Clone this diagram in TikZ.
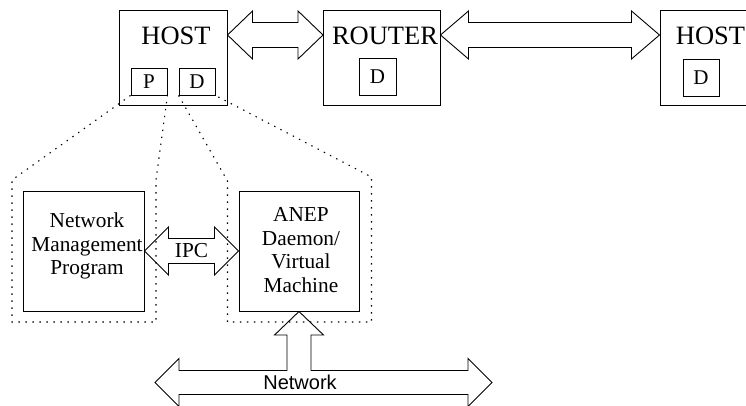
\documentclass[tikz,border=0pt]{standalone}
\usepackage{fontspec}
\setmainfont{Liberation Serif}
\newfontfamily\netfont{Liberation Sans}
\usetikzlibrary{calc}

% horizontal fat double arrow: from, to, head length
\newcommand{\fatarrow}[3]{%
  \draw[fat] let \p1=#1, \p2=#2 in
    (\p1) -- (\x1+#3,\y1+24pt) -- (\x1+#3,\y1+12.5pt) -- (\x2-#3,\y1+12.5pt)
    -- (\x2-#3,\y1+24pt) -- (\p2) -- (\x2-#3,\y1-24pt) -- (\x2-#3,\y1-12.5pt)
    -- (\x1+#3,\y1-12.5pt) -- (\x1+#3,\y1-24pt) -- cycle;}

\begin{document}
\begin{tikzpicture}[x=1pt, y=1pt,
    box/.style={draw, line width=1pt, inner sep=0pt},
    inbox/.style={draw, line width=0.9pt, inner sep=0pt, font=\fontsize{21}{24}\selectfont},
    bigtxt/.style={inner sep=0pt, font=\fontsize{26.5}{30}\selectfont},
    smalltxt/.style={inner sep=0pt, align=center, font=\fontsize{21.3}{23.4}\selectfont},
    fat/.style={draw, line width=0.9pt, line join=miter},
    zoomline/.style={line width=1.1pt, dash pattern=on 1.4pt off 5.6pt}]
    \useasboundingbox (0,0) rectangle (746,405);
    \clip (0,0) rectangle (746,405);

    % top row
    \node[box, minimum width=108pt, minimum height=95pt] (hostA) at (173,346.5) {};
    \node[bigtxt] (hostAlbl) at (176,369) {HOST};
    \node[inbox, minimum width=36pt, minimum height=27pt] (pbox) at (149,323.5) {P};
    \node[inbox, minimum width=36pt, minimum height=27pt] (dbox) at (197,323.5) {D};

    \node[box, minimum width=116.5pt, minimum height=95pt] (router) at (381.75,346.5) {};
    \node[bigtxt] (routerlbl) at (385,369) {ROUTER};
    \node[inbox, minimum width=37pt, minimum height=37pt] (routerd) at (377.5,328.5) {D};

    \node[box, minimum width=108pt, minimum height=95pt] (hostB) at (714,346.5) {};
    \node[bigtxt] (hostBlbl) at (710.5,369) {HOST};
    \node[inbox, minimum width=36pt, minimum height=37pt] (hostbd) at (701,327.5) {D};

    \fatarrow{([yshift=23.5pt]hostA.east)}{([yshift=23.5pt]router.west)}{25pt}
    \fatarrow{([yshift=23.5pt]router.east)}{([yshift=23.5pt]hostB.west)}{28pt}

    % blown-up view of P and D
    \draw[zoomline] (pbox.south west) -- (12,225) -- (12,83) -- (156,83) -- (156,225) -- (pbox.south east);
    \draw[zoomline] (dbox.south west) -- (227.5,224) -- (227.5,83) -- (371.5,83) -- (371.5,228) -- (dbox.south east);

    \node[box, minimum width=121pt, minimum height=120pt] (nmp) at (83.5,154) {};
    \node[smalltxt] (nmplbl) at (87,159) {Network\\Management\\Program};
    \node[box, minimum width=120pt, minimum height=120pt] (anep) at (299,154) {};
    \node[smalltxt] (aneplbl) at (301,155) {ANEP\\Daemon/\\Virtual\\Machine};

    \fatarrow{(nmp.east)}{(anep.west)}{24pt}
    \node[smalltxt] (ipc) at ($(nmp.east)!0.5!(anep.west)$) {IPC};

    % network
    \coordinate (netL) at (155,22.5);
    \coordinate (netR) at (492,22.5);
    \draw[fat] let \p1=(anep.south), \p2=(netL), \p3=(netR) in
      (\p1) -- (\x1+24.5pt,\y1-23.5pt) -- (\x1+12pt,\y1-23.5pt) -- (\x1+12pt,\y2+12pt)
      -- (\x3-24pt,\y2+12pt) -- (\x3-24pt,\y2+24pt) -- (\p3) -- (\x3-24pt,\y2-24pt)
      -- (\x3-24pt,\y2-12pt) -- (\x2+24pt,\y2-12pt) -- (\x2+24pt,\y2-24pt) -- (\p2)
      -- (\x2+24pt,\y2+24pt) -- (\x2+24pt,\y2+12pt) -- (\x1-12pt,\y2+12pt)
      -- (\x1-12pt,\y1-23.5pt) -- (\x1-24.5pt,\y1-23.5pt) -- cycle;
    \node[inner sep=0pt, font=\netfont\fontsize{20}{23}\selectfont] (netlbl) at (300,23) {Network};
\end{tikzpicture}
\end{document}
